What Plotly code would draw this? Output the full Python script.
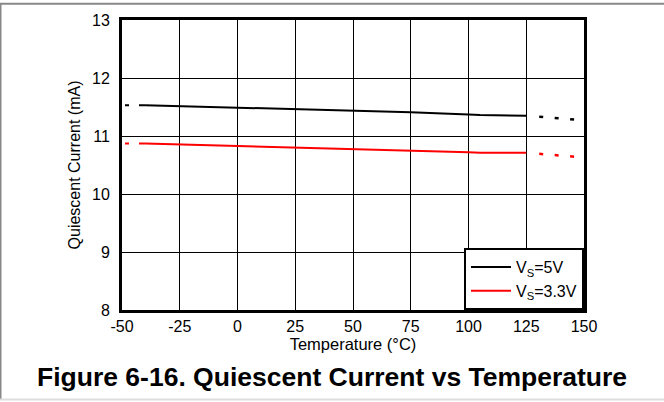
import plotly.graph_objects as go

# Data
temp_main = [-40, 0, 25, 50, 75, 100, 105, 125]
iq_5v = [11.53, 11.49, 11.47, 11.44, 11.41, 11.37, 11.36, 11.35]
iq_33v = [10.87, 10.83, 10.80, 10.78, 10.75, 10.72, 10.71, 10.71]

temp_low = [-50, -40]
iq_5v_low = [11.53, 11.53]
iq_33v_low = [10.87, 10.87]

temp_high = [125, 150]
iq_5v_high = [11.35, 11.27]
iq_33v_high = [10.71, 10.63]

x_ticks = [-50, -25, 0, 25, 50, 75, 100, 125, 150]
x_ticktext = ["-50", "-25", "0", "25", "50", "75", "100", "125", "150"]
y_ticks = [8, 9, 10, 11, 12, 13]

names = ["V<sub>S</sub>=5V", "V<sub>S</sub>=3.3V"]
colors = ["#000000", "#ff0000"]

fig = go.Figure()
for name, col, lo, main, hi in zip(names, colors,
                                   [iq_5v_low, iq_33v_low],
                                   [iq_5v, iq_33v],
                                   [iq_5v_high, iq_33v_high]):
    fig.add_trace(go.Scatter(x=temp_main, y=main, mode="lines", name=name,
                             line=dict(color=col, width=2)))
    fig.add_trace(go.Scatter(x=temp_low, y=lo, mode="lines", showlegend=False,
                             line=dict(color=col, width=2, dash="0px,3px,4px,10px,30px")))
    fig.add_trace(go.Scatter(x=temp_high, y=hi, mode="lines", showlegend=False,
                             line=dict(color=col, width=2.5,
                                       dash="0px,13px,4px,11.5px,4px,11.5px,4px,20px")))

font = "Liberation Sans, Arial, sans-serif"

fig.update_layout(
    width=664, height=402,
    margin=dict(l=122, r=80, t=17, b=92),
    paper_bgcolor="white", plot_bgcolor="white",
    font=dict(family=font, color="black", size=16),
    legend=dict(x=1, y=0, xanchor="right", yanchor="bottom",
                bgcolor="white", bordercolor="black", borderwidth=2,
                font=dict(size=16), tracegroupgap=0, itemwidth=40),
    showlegend=True,
)
fig.update_xaxes(range=[-50, 150], tickvals=x_ticks, ticktext=x_ticktext, showgrid=True,
                 gridcolor="black", gridwidth=1, showline=True, linecolor="black",
                 linewidth=3, mirror=True, zeroline=False, ticks="",
                 tickfont=dict(size=16),
                 title=dict(text="Temperature (°C)", font=dict(size=16.5), standoff=1))
fig.update_yaxes(range=[8, 13], tickvals=y_ticks, showgrid=True,
                 gridcolor="black", gridwidth=1, showline=True, linecolor="black",
                 linewidth=3, mirror=True, zeroline=False, ticks="",
                 tickfont=dict(size=16), ticklabelstandoff=6,
                 title=dict(text="Quiescent Current (mA)", font=dict(size=16), standoff=8))

fig.add_annotation(text="<b>Figure 6-16. Quiescent Current vs Temperature</b>",
                   xref="paper", yref="paper", x=0.4545, y=-0.232,
                   xanchor="center", yanchor="middle", showarrow=False,
                   font=dict(size=26.5, family=font, color="black"))

# outer gray frame lines
fig.add_shape(type="line", xref="paper", yref="paper", x0=-0.264, x1=1.44,
              y0=1.056, y1=1.056, line=dict(color="#888888", width=2))
fig.add_shape(type="line", xref="paper", yref="paper", x0=-0.263, x1=-0.263,
              y0=-0.31, y1=1.058, line=dict(color="#888888", width=2))
fig.add_shape(type="line", xref="paper", yref="paper", x0=-0.264, x1=1.44,
              y0=-0.309, y1=-0.309, line=dict(color="#dddddd", width=2))

fig.write_html("out.html", config={"displayModeBar": False},
               post_script="document.body.style.margin='0px';document.body.style.overflow='hidden';")
